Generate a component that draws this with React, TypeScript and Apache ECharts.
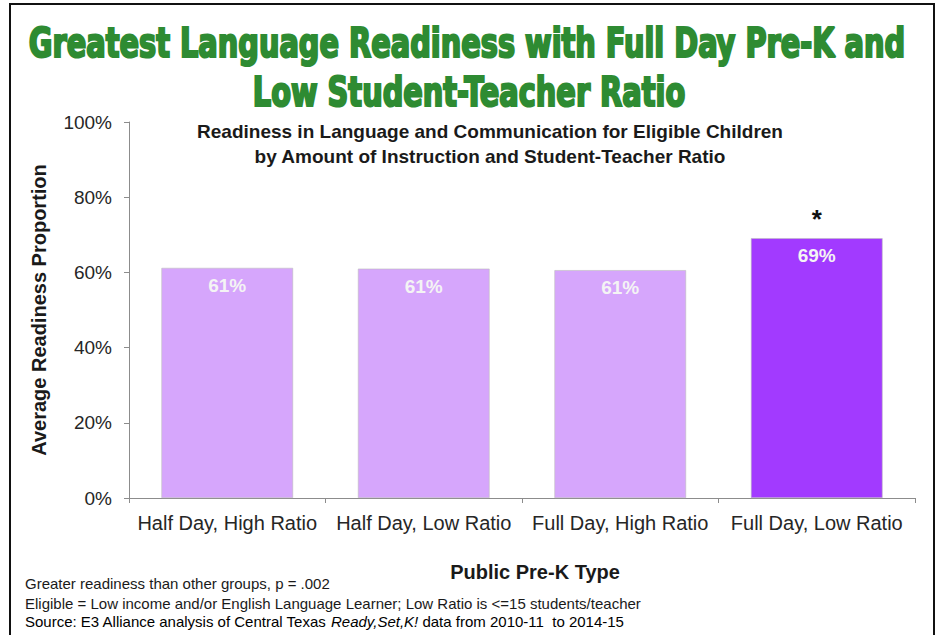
import React, { useEffect, useRef } from "react";
import * as echarts from "echarts";

const categories = ["Half Day, High Ratio", "Half Day, Low Ratio", "Full Day, High Ratio", "Full Day, Low Ratio"];
const readiness = [0.612, 0.61, 0.606, 0.691];
const barColors = ["#D6A6FC", "#D6A6FC", "#D6A6FC", "#A23AFF"];
const significance = ["", "", "", "*"];
const yTicks = [0, 0.2, 0.4, 0.6, 0.8, 1.0];

const mainTitle1 = "Greatest Language Readiness with Full Day Pre-K and";
const mainTitle2 = "Low Student-Teacher Ratio";
const subTitle = "Readiness in Language and Communication for Eligible Children\nby Amount of Instruction and Student-Teacher Ratio";
const footnotes = [
  "Greater readiness than other groups, p = .002",
  "Eligible = Low income and/or English Language Learner; Low Ratio is <=15 students/teacher",
];

const TITLE_FONT = '"DejaVu Sans Condensed", "DejaVu Sans", sans-serif';
const TITLE_SIZE = 40;

function measure(text: string, font: string): number {
  const c = document.createElement("canvas");
  const ctx = c.getContext("2d");
  if (!ctx) return text.length * 20;
  ctx.font = font;
  return ctx.measureText(text).width;
}

export default function App() {
  const ref = useRef<HTMLDivElement>(null);
  useEffect(() => {
    if (!ref.current) return;
    const chart = echarts.init(ref.current, undefined, { renderer: "svg" });
    const tfont = `bold ${TITLE_SIZE}px ${TITLE_FONT}`;
    const w1 = measure(mainTitle1, tfont);
    const w2 = measure(mainTitle2, tfont);
    const sx1 = 870 / w1;
    const sx2 = 436 / w2;
    const sx = (sx1 + sx2) / 2;
    const green = "#2E8B32";
    const font = '"Liberation Sans", Arial, sans-serif';

    chart.setOption({
      animation: false,
      backgroundColor: "#ffffff",
      title: {
        text: subTitle,
        left: 485,
        top: 114,
        textAlign: "center",
        textStyle: { fontFamily: font, fontSize: 19, fontWeight: "bold", color: "#1a1a1a", lineHeight: 25 },
      },
      graphic: [
        {
          type: "rect",
          shape: { x: 10, y: 4, width: 924, height: 650 },
          style: { fill: "none", stroke: "#111", lineWidth: 2 },
          silent: true,
        },
        {
          type: "text",
          x: 467,
          y: 43,
          scaleX: sx,
          style: {
            text: mainTitle1,
            font: tfont,
            fill: green,
            stroke: green,
            lineWidth: 2.2,
            align: "center",
            verticalAlign: "middle",
          },
        },
        {
          type: "text",
          x: 469,
          y: 92,
          scaleX: sx,
          style: {
            text: mainTitle2,
            font: tfont,
            fill: green,
            stroke: green,
            lineWidth: 2.2,
            align: "center",
            verticalAlign: "middle",
          },
        },
        {
          type: "text",
          x: 25,
          y: 583,
          style: {
            text: footnotes[0],
            font: `15px ${font}`,
            fill: "#1a1a1a",
            verticalAlign: "middle",
          },
        },
        {
          type: "text",
          x: 25,
          y: 603,
          style: {
            text: footnotes[1],
            font: `15px ${font}`,
            fill: "#1a1a1a",
            verticalAlign: "middle",
          },
        },
        {
          type: "text",
          x: 25,
          y: 621,
          style: {
            text: "{n|Source: E3 Alliance analysis of Central Texas }{i|Ready,Set,K!}{n| data from 2010-11  to 2014-15}",
            verticalAlign: "middle",
            rich: {
              n: { fontFamily: font, fontSize: 15, color: "#1a1a1a" },
              i: { fontFamily: font, fontSize: 15, fontStyle: "italic", color: "#1a1a1a" },
            },
          },
        },
      ],
      grid: { left: 129, right: 24, top: 122, bottom: 137, containLabel: false },
      xAxis: {
        type: "category",
        data: categories,
        name: "Public Pre-K Type",
        nameLocation: "middle",
        nameGap: 64,
        nameTextStyle: { fontFamily: font, fontSize: 20, fontWeight: "bold", color: "#1a1a1a", padding: [0, 0, 0, 26] },
        axisLine: { lineStyle: { color: "#8c8c8c", width: 1 } },
        axisTick: { show: true, length: 5, lineStyle: { color: "#8c8c8c" } },
        axisLabel: { fontFamily: font, fontSize: 20, color: "#262626", margin: 15, interval: 0 },
      },
      yAxis: {
        type: "value",
        min: yTicks[0],
        max: yTicks[yTicks.length - 1],
        interval: 0.2,
        name: "Average Readiness Proportion",
        nameLocation: "middle",
        nameGap: 80,
        nameRotate: 90,
        nameTextStyle: { fontFamily: font, fontSize: 20, fontWeight: "bold", color: "#1a1a1a" },
        axisLine: { show: true, lineStyle: { color: "#8c8c8c", width: 1 } },
        axisTick: { show: true, length: 5, lineStyle: { color: "#8c8c8c" } },
        splitLine: { show: false },
        axisLabel: {
          fontFamily: font,
          fontSize: 19,
          color: "#262626",
          margin: 17,
          formatter: (v: number) => `${Math.round(v * 100)}%`,
        },
      },
      series: [
        {
          type: "bar",
          data: readiness.map((v, i) => ({
            value: v,
            itemStyle: { color: barColors[i], borderColor: "#bdbdbd", borderWidth: 0.6 },
          })),
          barCategoryGap: "33%",
          label: {
            show: true,
            position: "insideTop",
            distance: 8,
            formatter: (p: any) => `${Math.round(p.value * 100)}%`,
            fontFamily: font,
            fontSize: 19,
            fontWeight: "bold",
            color: "#f4f4f4",
          },
          markPoint: {
            symbol: "circle",
            symbolSize: 0,
            silent: true,
            data: readiness
              .map((v, i) => ({ v, i }))
              .filter((d) => significance[d.i] !== "")
              .map((d) => ({
                coord: [d.i, d.v],
                value: significance[d.i],
                label: {
                  show: true,
                  position: "top",
                  distance: 6,
                  formatter: significance[d.i],
                  fontFamily: font,
                  fontSize: 26,
                  fontWeight: "bold",
                  color: "#111",
                },
              })),
          },
        },
      ],
    });
    return () => chart.dispose();
  }, []);
  return <div ref={ref} style={{ position: "fixed", left: 0, top: 0, width: 939, height: 635 }} />;
}
